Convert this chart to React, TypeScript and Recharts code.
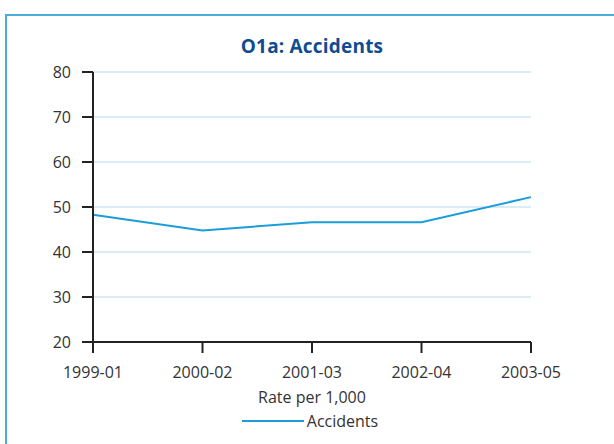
import React from "react";
import { LineChart, Line, XAxis, YAxis, CartesianGrid, Legend } from "recharts";

const categories = ["1999-01", "2000-02", "2001-03", "2002-04", "2003-05"];
const accidents = [48.3, 44.8, 46.6, 46.6, 52.2];
const yTicks = [20, 30, 40, 50, 60, 70, 80];

const data = categories.map((c, i) => ({ period: c, Accidents: accidents[i] }));

const FONT = "'Open Sans', 'DejaVu Sans', sans-serif";
const LINE_COLOR = "#1b9ddb";

const LegendContent = () => (
  <div style={{ display: "flex", justifyContent: "center", alignItems: "center", fontFamily: FONT, fontSize: 16, color: "#333", paddingLeft: 6 }}>
    <svg width={62} height={10} style={{ marginRight: 3 }}>
      <line x1={0} y1={5} x2={62} y2={5} stroke={LINE_COLOR} strokeWidth={2} />
    </svg>
    <span>Accidents</span>
  </div>
);

export default function App() {
  return (
    <div style={{ position: "absolute", left: 0, top: 0, width: 614, height: 444, background: "#fff", overflow: "hidden" }}>
      <div style={{ position: "absolute", left: 5, top: 14, width: 700, height: 500, border: "2px solid #4aaed8", boxSizing: "border-box" }} />
      <div style={{ position: "absolute", left: 0, top: 33, width: 624, textAlign: "center", fontFamily: FONT, fontWeight: 700, fontSize: 19, color: "#0f4c92", letterSpacing: 0.2 }}>
        O1a: Accidents
      </div>
      <div style={{ position: "absolute", left: 0, top: 0 }}>
        <LineChart width={614} height={444} data={data} margin={{ top: 72, right: 83, bottom: 0, left: 0 }}>
          <CartesianGrid horizontal vertical={false} stroke="#cfe6f7" strokeWidth={1.5} />
          <XAxis
            dataKey="period"
            height={102}
            padding={{ left: 0, right: 0 }}
            axisLine={{ stroke: "#222", strokeWidth: 2 }}
            tickLine={{ stroke: "#222", strokeWidth: 2 }}
            tickSize={11}
            tickMargin={14}
            tick={{ fill: "#333", fontSize: 16, fontFamily: FONT }}
            interval={0}
            label={{ value: "Rate per 1,000", position: "insideTop", offset: 50, fill: "#333", fontSize: 16, fontFamily: FONT }}
          />
          <YAxis
            width={93}
            domain={[20, 80]}
            ticks={yTicks}
            axisLine={{ stroke: "#222", strokeWidth: 2 }}
            tickLine={{ stroke: "#222", strokeWidth: 2 }}
            tickSize={11}
            tickMargin={11}
            tick={{ fill: "#333", fontSize: 16, fontFamily: FONT }}
          />
          <Legend
            verticalAlign="middle"
            layout="horizontal"
            content={<LegendContent />}
            wrapperStyle={{ top: 410, left: 0, width: 614 }}
          />
          <Line type="linear" dataKey="Accidents" stroke={LINE_COLOR} strokeWidth={2} dot={false} isAnimationActive={false} />
        </LineChart>
      </div>
    </div>
  );
}
